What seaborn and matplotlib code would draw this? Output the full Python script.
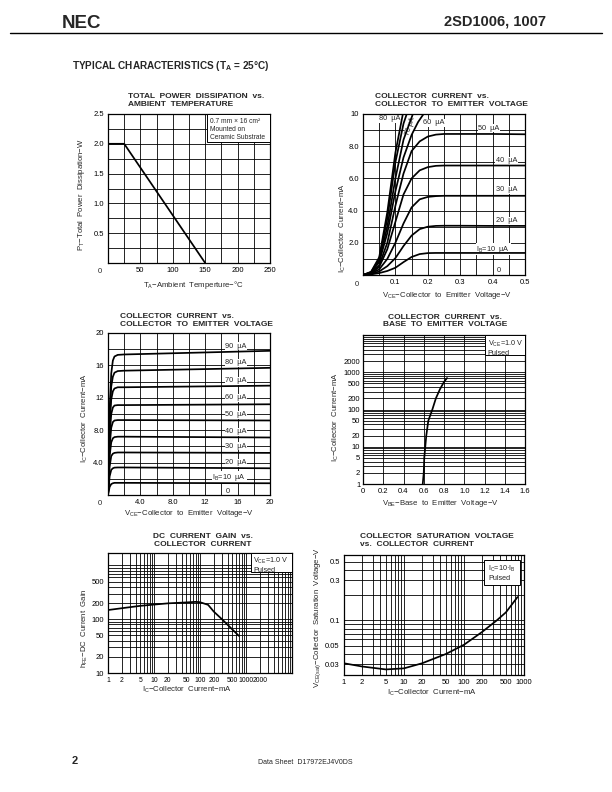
import numpy as np
import pandas as pd
import matplotlib
matplotlib.use("Agg")
import matplotlib.pyplot as plt
import seaborn as sns
from matplotlib.ticker import FixedLocator, FixedFormatter, NullFormatter
from matplotlib.patches import Rectangle

# ---------------- data ----------------
# 1) Total power dissipation vs ambient temperature
pt_temp_c = [0, 25, 150]
pt_power_w = [2.0, 2.0, 0.0]

# 2) Collector current vs collector-emitter voltage (low VCE)
lo_vce_v = [0, 0.025, 0.05, 0.075, 0.1, 0.125, 0.15, 0.175, 0.2, 0.225, 0.25, 0.3, 0.4, 0.5]
lo_ic_10ua = [0, 0.04, 0.12, 0.25, 0.45, 0.8, 1.12, 1.3, 1.36, 1.37, 1.37, 1.37, 1.37, 1.37]
lo_ic_20ua = [0, 0.06, 0.22, 0.55, 1.05, 1.8, 2.45, 2.85, 3.0, 3.05, 3.06, 3.06, 3.05, 3.05]
lo_ic_30ua = [0, 0.08, 0.35, 1.0, 2.0, 3.2, 4.2, 4.7, 4.85, 4.9, 4.92, 4.92, 4.92, 4.92]
lo_ic_40ua = [0, 0.1, 0.5, 1.6, 3.3, 5.0, 6.0, 6.5, 6.7, 6.78, 6.8, 6.8, 6.8, 6.8]
lo_ic_50ua = [0, 0.12, 0.6, 2.0, 4.3, 6.3, 7.7, 8.3, 8.6, 8.72, 8.76, 8.76, 8.76, 8.74]
lo_vce_60ua = [0, 0.025, 0.05, 0.075, 0.1, 0.125, 0.15, 0.17, 0.187]
lo_ic_60ua = [0, 0.14, 0.8, 2.6, 5.2, 7.3, 8.7, 9.5, 10.0]
lo_vce_70ua = [0, 0.025, 0.05, 0.075, 0.1, 0.125, 0.154]
lo_ic_70ua = [0, 0.16, 0.9, 3.0, 6.0, 8.4, 10.0]
lo_vce_80ua = [0, 0.025, 0.05, 0.075, 0.1, 0.125, 0.135]
lo_ic_80ua = [0, 0.18, 1.0, 3.5, 7.0, 9.4, 10.0]
lo_vce_90ua = [0, 0.025, 0.05, 0.075, 0.1, 0.123]
lo_ic_90ua = [0, 0.2, 1.1, 3.9, 7.6, 10.0]

# 3) Collector current vs collector-emitter voltage (0-20 V)
hi_vce_v = [0, 0.2, 0.4, 0.6, 0.8, 1.2, 2.0, 20.0]
hi_ic_10ua = [0, 1.0, 1.35, 1.45, 1.5, 1.5, 1.5, 1.45]
hi_ic_20ua = [0, 2.3, 3.1, 3.3, 3.38, 3.4, 3.4, 3.3]
hi_ic_30ua = [0, 3.5, 4.8, 5.1, 5.2, 5.25, 5.25, 5.2]
hi_ic_40ua = [0, 4.8, 6.5, 7.0, 7.15, 7.2, 7.2, 7.1]
hi_ic_50ua = [0, 6.0, 8.3, 9.0, 9.2, 9.25, 9.25, 9.2]
hi_ic_60ua = [0, 7.2, 10.0, 10.8, 11.05, 11.1, 11.1, 11.2]
hi_ic_70ua = [0, 8.5, 11.8, 12.8, 13.15, 13.3, 13.3, 13.5]
hi_ic_80ua = [0, 9.5, 13.4, 14.6, 15.1, 15.3, 15.35, 15.7]
hi_ic_90ua = [0, 10.5, 15.0, 16.6, 17.1, 17.3, 17.35, 17.8]

# 4) Collector current vs base-emitter voltage
vbe_v = [0.59, 0.60, 0.605, 0.615, 0.625, 0.645, 0.685, 0.72, 0.76, 0.80, 0.83]
vbe_ic_ma = [1, 2, 5, 10, 20, 50, 100, 200, 350, 550, 700]

# 5) DC current gain vs collector current
hfe_ic_ma = [1, 2, 5, 10, 20, 50, 80, 100, 150, 200, 300, 500, 700]
hfe_gain = [148, 160, 177, 187, 197, 205, 210, 207, 185, 138, 100, 65, 49]

# 6) Collector saturation voltage vs collector current
sat_ic_ma = [1, 2, 5, 10, 20, 50, 100, 200, 350, 500, 650, 780]
sat_vce_v = [0.031, 0.0284, 0.0262, 0.027, 0.031, 0.040, 0.0515, 0.073, 0.10, 0.125, 0.16, 0.19]

# ---------------- style ----------------
sns.set_theme(style="white")
plt.rcParams['font.family'] = ['Liberation Sans', 'DejaVu Sans']
plt.rcParams['mathtext.fontset'] = 'custom'
plt.rcParams['mathtext.rm'] = 'Liberation Sans'
plt.rcParams['mathtext.it'] = 'Liberation Sans:italic'
plt.rcParams['mathtext.bf'] = 'Liberation Sans:bold'

W, H = 612, 792
fig = plt.figure(figsize=(W / 100, H / 100), dpi=100)
fig.patch.set_facecolor('white')

TICK_FS = 5.5
LAB_FS = 5.6
TITLE_FS = 6.0
GRID_KW = dict(color='black', lw=0.6)
CURVE_KW = dict(color='black', lw=1.25)


def make_ax(x0, y0, x1, y1):
    ax = fig.add_axes([x0 / W, 1 - y1 / H, (x1 - x0) / W, (y1 - y0) / H])
    ax.set_facecolor('white')
    for s in ax.spines.values():
        s.set_color('black')
        s.set_linewidth(0.9)
    ax.tick_params(which='both', length=0, pad=3, labelsize=TICK_FS, colors='black')
    return ax


def fig_text(x, y, s, **kw):
    fig.text(x / W, 1 - y / H, s, **kw)


def title(x, y, lines, ha='left'):
    for k, ln in enumerate(lines):
        fig_text(x, y + k * 8, ln, fontsize=TITLE_FS, fontweight='bold', ha=ha, va='center')


def labels(ax, xl, xlx, xly, yl, ylx, yly):
    ax.set_xlabel('')
    ax.set_ylabel('')
    ax.text(xlx, xly, xl, transform=ax.transAxes, ha='center', va='center', fontsize=LAB_FS)
    ax.text(ylx, yly, yl, transform=ax.transAxes, ha='center', va='center', fontsize=LAB_FS,
            rotation=90)


def lin_grid(ax, xt, xlab, yt, ylab):
    ax.xaxis.set_major_locator(FixedLocator(xt))
    ax.xaxis.set_major_formatter(FixedFormatter(xlab))
    ax.yaxis.set_major_locator(FixedLocator(yt))
    ax.yaxis.set_major_formatter(FixedFormatter(ylab))
    ax.grid(True, which='major', **GRID_KW)
    ax.set_axisbelow(True)


def log_minor(lo_exp, hi_exp):
    return [d * 10.0 ** e for e in range(lo_exp, hi_exp + 1) for d in range(1, 10)]


def log_axis(axis, major, major_lab, minor):
    axis.set_major_locator(FixedLocator(major))
    axis.set_major_formatter(FixedFormatter(major_lab))
    axis.set_minor_locator(FixedLocator(minor))
    axis.set_minor_formatter(NullFormatter())


def box(ax, x0, y0, x1, y1, text, tx, ty, fs=5.2):
    ax.add_patch(Rectangle((x0, y0), x1 - x0, y1 - y0, transform=ax.transAxes,
                           fc='white', ec='black', lw=0.7, zorder=3))
    ax.text(tx, ty, text, transform=ax.transAxes, ha='left', va='top', fontsize=fs,
            linespacing=1.25, zorder=4)


LBL_BOX = dict(fc='white', ec='none', pad=0.4)

# ---------------- header / footer ----------------
fig_text(62, 24, "NEC", fontsize=13.5, fontweight='bold', ha='left', va='center')
fig_text(546, 22, "2SD1006, 1007", fontsize=10.5, fontweight='bold', ha='right', va='center')
fig.add_artist(plt.Line2D([10 / W, 602 / W], [1 - 32.5 / H, 1 - 32.5 / H], color='black', lw=1.0))
fig_text(72, 66, r"TYPICAL CHARACTERISTICS (T$_\mathbf{A}$ = 25°C)", fontsize=7.2,
         fontweight='bold', ha='left', va='center')
fig_text(72, 761, "2", fontsize=8, fontweight='bold', ha='left', va='center')
fig_text(305, 763, "Data Sheet  D17972EJ4V0DS", fontsize=5, ha='center', va='center')

# ---------------- chart 1 ----------------
ax1 = make_ax(108, 114, 270, 263)
sns.lineplot(x=pt_temp_c, y=pt_power_w, ax=ax1, sort=False, estimator=None, **CURVE_KW)
ax1.set_xlim(0, 250)
ax1.set_ylim(0, 2.5)
lin_grid(ax1, np.arange(0, 251, 25), ['' if v % 50 or v == 0 else str(v) for v in range(0, 251, 25)],
         np.arange(0, 2.51, 0.25), ['' if (k % 2 or k == 0) else f"{k * 0.25:.1f}" for k in range(11)])
ax1.text(-0.035, -0.035, "0", transform=ax1.transAxes, ha='right', va='top', fontsize=TICK_FS)
labels(ax1, r"T$_\mathregular{A}$−Ambient  Temperture−°C", 0.525, -0.15,
       r"P$_\mathregular{T}$−Total  Power  Dissipation−W", -0.165, 0.456)
box(ax1, 0.611, 0.812, 1.0, 1.0, "0.7 mm × 16 cm²\nMounted on\nCeramic Substrate", 0.63, 0.975, fs=4.8)
title(128, 97, ["TOTAL  POWER  DISSIPATION  vs.", "AMBIENT  TEMPERATURE"])

# ---------------- chart 2 ----------------
ax2 = make_ax(363, 114, 525, 275)
lo_sets = [(lo_vce_v, lo_ic_10ua, 10), (lo_vce_v, lo_ic_20ua, 20), (lo_vce_v, lo_ic_30ua, 30),
           (lo_vce_v, lo_ic_40ua, 40), (lo_vce_v, lo_ic_50ua, 50), (lo_vce_60ua, lo_ic_60ua, 60),
           (lo_vce_70ua, lo_ic_70ua, 70), (lo_vce_80ua, lo_ic_80ua, 80), (lo_vce_90ua, lo_ic_90ua, 90)]
df_lo = pd.concat([pd.DataFrame({'vce': v, 'ic': i, 'ib': ib}) for v, i, ib in lo_sets])
ax2.set_xlim(0, 0.5)
ax2.set_ylim(0, 10)
lin_grid(ax2, np.arange(0, 0.501, 0.05), ['' if k % 2 or k == 0 else f"{k * 0.05:.1f}" for k in range(11)],
         np.arange(0, 10.01, 1), ['' if k % 2 or k == 0 else ("10" if k == 10 else f"{k:.1f}") for k in range(11)])
lo_lab = [(0.05, 9.7, "80  µA"), (0.186, 9.45, "60  µA"), (0.356, 9.13, "50  µA"),
          (0.41, 7.1, "40  µA"), (0.41, 5.3, "30  µA"), (0.41, 3.37, "20  µA"),
          (0.35, 1.6, r"I$_\mathregular{B}$=10  µA"), (0.412, 0.25, "0")]
for x, y, s in lo_lab:
    ax2.text(x, y, s, fontsize=5.3, ha='left', va='center', bbox=LBL_BOX, zorder=2)
ax2.text(0.146, 9.25, "70 µA", fontsize=5.0, rotation=72, ha='center', va='center', bbox=LBL_BOX, zorder=2)
sns.lineplot(data=df_lo, x='vce', y='ic', units='ib', estimator=None, sort=False, ax=ax2,
             legend=False, **CURVE_KW)
ax2.text(-0.025, -0.035, "0", transform=ax2.transAxes, ha='right', va='top', fontsize=TICK_FS)
labels(ax2, r"V$_\mathregular{CE}$−Collector  to  Emitter  Voltage−V", 0.52, -0.13,
       r"I$_\mathregular{C}$−Collector  Current−mA", -0.125, 0.29)
title(375, 97, ["COLLECTOR  CURRENT  vs.", "COLLECTOR  TO  EMITTER  VOLTAGE"])

# ---------------- chart 3 ----------------
ax3 = make_ax(108, 333, 270, 495)
hi_sets = [(hi_ic_10ua, 10), (hi_ic_20ua, 20), (hi_ic_30ua, 30), (hi_ic_40ua, 40), (hi_ic_50ua, 50),
           (hi_ic_60ua, 60), (hi_ic_70ua, 70), (hi_ic_80ua, 80), (hi_ic_90ua, 90)]
df_hi = pd.concat([pd.DataFrame({'vce': hi_vce_v, 'ic': i, 'ib': ib}) for i, ib in hi_sets])
ax3.set_xlim(0, 20)
ax3.set_ylim(0, 20)
tl = {4: "4.0", 8: "8.0", 12: "12", 16: "16", 20: "20"}
lin_grid(ax3, np.arange(0, 20.01, 2), [tl.get(v, '') for v in range(0, 21, 2)],
         np.arange(0, 20.01, 2), [tl.get(v, '') for v in range(0, 21, 2)])
hi_lab = [(14.5, 18.35, "90  µA"), (14.5, 16.3, "80  µA"), (14.5, 14.1, "70  µA"), (14.5, 12.0, "60  µA"),
          (14.5, 9.9, "50  µA"), (14.5, 7.8, "40  µA"), (14.5, 6.0, "30  µA"), (14.5, 4.0, "20  µA"),
          (12.9, 2.2, r"I$_\mathregular{B}$=10  µA"), (14.5, 0.45, "0")]
for x, y, s in hi_lab:
    ax3.text(x, y, s, fontsize=5.3, ha='left', va='center', bbox=LBL_BOX, zorder=2)
sns.lineplot(data=df_hi, x='vce', y='ic', units='ib', estimator=None, sort=False, ax=ax3,
             legend=False, **CURVE_KW)
ax3.text(-0.035, -0.03, "0", transform=ax3.transAxes, ha='right', va='top', fontsize=TICK_FS)
labels(ax3, r"V$_\mathregular{CE}$−Collector  to  Emitter  Voltage−V", 0.5, -0.117,
       r"I$_\mathregular{C}$−Collector  Current−mA", -0.142, 0.475)
title(120, 316, ["COLLECTOR  CURRENT  vs.", "COLLECTOR  TO  EMITTER  VOLTAGE"])

# ---------------- chart 4 ----------------
ax4 = make_ax(363, 335, 525, 484)
ax4.set_yscale('log')
ax4.set_xlim(0, 1.6)
ax4.set_ylim(1, 10000)
ax4.xaxis.set_major_locator(FixedLocator(np.arange(0, 1.601, 0.2)))
ax4.xaxis.set_major_formatter(FixedFormatter(["0", "0.2", "0.4", "0.6", "0.8", "1.0", "1.2", "1.4", "1.6"]))
log_axis(ax4.yaxis, [1, 2, 5, 10, 20, 50, 100, 200, 500, 1000, 2000],
         ["1", "2", "5", "10", "20", "50", "100", "200", "500", "1000", "2000"], log_minor(0, 3))
ax4.tick_params(axis='y', pad=2)
ax4.grid(True, which='both', **GRID_KW)
ax4.set_axisbelow(True)
sns.lineplot(x=vbe_v, y=vbe_ic_ma, ax=ax4, sort=False, estimator=None, **CURVE_KW)
box(ax4, 0.753, 0.866, 1.0, 1.0, r"V$_\mathregular{CE}$=1.0 V" + "\nPulsed", 0.77, 0.975)
labels(ax4, r"V$_\mathregular{BE}$−Base  to  Emitter  Voltage−V", 0.48, -0.128,
       r"I$_\mathregular{C}$−Collector  Current−mA", -0.17, 0.45)
title(445, 317, ["COLLECTOR  CURRENT  vs.", "BASE  TO  EMITTER  VOLTAGE"], ha='center')

# ---------------- chart 5 ----------------
ax5 = make_ax(108, 553, 292, 673)
ax5.set_xscale('log')
ax5.set_yscale('log')
ax5.set_xlim(1, 10000)
ax5.set_ylim(10, 1700)
log_axis(ax5.xaxis, [1, 2, 5, 10, 20, 50, 100, 200, 500, 1000, 2000],
         ["1", "2", "5", "10", "20", "50", "100", "200", "500", "1000", "2000"], log_minor(0, 3))
log_axis(ax5.yaxis, [10, 20, 50, 100, 200, 500], ["10", "20", "50", "100", "200", "500"], log_minor(1, 3))
ax5.tick_params(axis='x', labelsize=4.9)
ax5.grid(True, which='both', **GRID_KW)
ax5.set_axisbelow(True)
sns.lineplot(x=hfe_ic_ma, y=hfe_gain, ax=ax5, sort=False, estimator=None, **CURVE_KW)
box(ax5, 0.777, 0.84, 1.0, 1.0, r"V$_\mathregular{CE}$=1.0 V" + "\nPulsed", 0.79, 0.975)
labels(ax5, r"I$_\mathregular{C}$−Collector  Current−mA", 0.43, -0.142,
       r"h$_\mathregular{FE}$−DC  Current  Gain", -0.125, 0.37)
title(203, 537, ["DC  CURRENT  GAIN  vs.", "COLLECTOR  CURRENT"], ha='center')

# ---------------- chart 6 ----------------
ax6 = make_ax(344, 555, 524, 675)
ax6.set_xscale('log')
ax6.set_yscale('log')
ax6.set_xlim(1, 1000)
ax6.set_ylim(0.0225, 0.6)
log_axis(ax6.xaxis, [1, 2, 5, 10, 20, 50, 100, 200, 500, 1000],
         ["1", "2", "5", "10", "20", "50", "100", "200", "500", "1000"], log_minor(0, 2))
log_axis(ax6.yaxis, [0.03, 0.05, 0.1, 0.3, 0.5], ["0.03", "0.05", "0.1", "0.3", "0.5"], log_minor(-2, -1))
ax6.grid(True, which='both', **GRID_KW)
ax6.set_axisbelow(True)
sns.lineplot(x=sat_ic_ma, y=sat_vce_v, ax=ax6, sort=False, estimator=None, **CURVE_KW)
box(ax6, 0.78, 0.75, 0.975, 0.955, r"I$_\mathregular{C}$=10·I$_\mathregular{B}$" + "\nPulsed", 0.80, 0.93)
labels(ax6, r"I$_\mathregular{C}$−Collector  Current−mA", 0.49, -0.15,
       r"V$_\mathregular{CE(sat)}$−Collector  Saturation  Voltage−V", -0.144, 0.48)
title(360, 537, ["COLLECTOR  SATURATION  VOLTAGE", "vs.  COLLECTOR  CURRENT"])

fig.savefig("out.png", dpi=100, facecolor='white')
